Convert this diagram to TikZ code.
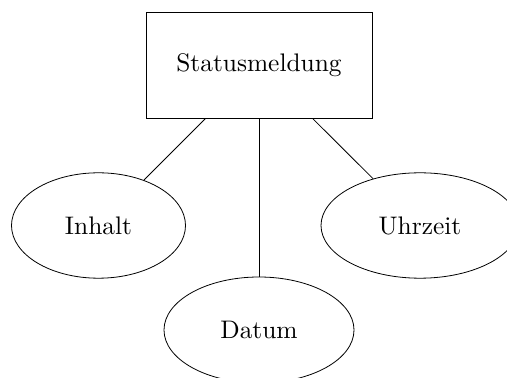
\documentclass[tikz,border=0pt]{standalone}
\usetikzlibrary{shapes.geometric}
\newcommand{\lbl}[1]{\scalebox{1.27}{#1}}
\begin{document}
\begin{tikzpicture}[x=0.5pt,y=-0.5pt,
  entity/.style={draw,rectangle,minimum width=113pt,minimum height=53pt,inner sep=0pt},
  attr/.style={draw,ellipse,inner sep=0pt,minimum height=52.7pt},
  link/.style={draw}]
  \useasboundingbox (0,0) rectangle (507,378);
  \node[entity] (status) at (259,65) {\lbl{Statusmeldung}};
  \node[attr,minimum width=87pt] (inhalt) at (98.5,225.5) {\lbl{Inhalt}};
  \node[attr,minimum width=99pt] (uhrzeit) at (420,225.5) {\lbl{Uhrzeit}};
  \node[attr,minimum width=95pt,minimum height=53pt] (datum) at (259,330) {\lbl{Datum}};
  \draw[link] (status) -- (inhalt);
  \draw[link] (status) -- (datum);
  \draw[link] (status) -- (uhrzeit);
\end{tikzpicture}
\end{document}
